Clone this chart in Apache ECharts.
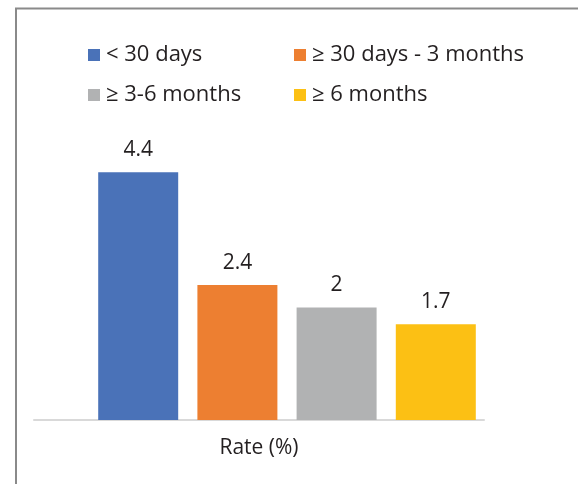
<!DOCTYPE html>
<html>
<head>
<meta charset="utf-8">
<script src="https://cdn.jsdelivr.net/npm/echarts@6/dist/echarts.min.js"></script>
<style>
  html, body { margin: 0; padding: 0; background: #fff; }
  #chart { width: 578px; height: 484px; }
</style>
</head>
<body>
<div id="chart"></div>
<script>
// Chart data
const categories = ['Rate (%)'];
const seriesNames = ['< 30 days', '≥ 30 days - 3 months', '≥ 3-6 months', '≥ 6 months'];
const seriesValues = [4.4, 2.4, 2, 1.7];
const seriesColors = ['#4a72b8', '#ed7f31', '#b1b2b3', '#fcc014'];

const FONT = '"Open Sans", "Noto Sans", sans-serif';
const TEXT_COLOR = '#231f20';

const chart = echarts.init(document.getElementById('chart'), null, { renderer: 'canvas' });

const series = seriesNames.map((name, i) => ({
  name: name,
  type: 'bar',
  xAxisIndex: 1,
  yAxisIndex: 1,
  data: [seriesValues[i]],
  barWidth: 80,
  barGap: '24%',
  itemStyle: { color: seriesColors[i] },
  label: {
    show: true,
    position: 'top',
    distance: 11,
    color: TEXT_COLOR,
    fontFamily: FONT,
    fontSize: 21,
    lineHeight: 22
  }
}));

const legendCommon = {
  orient: 'vertical',
  icon: 'rect',
  padding: 0,
  itemWidth: 12,
  itemHeight: 12,
  itemGap: 16,
  textStyle: { color: TEXT_COLOR, fontFamily: FONT, fontSize: 22, lineHeight: 24, padding: [0, 0, 0, 1] },
  selectedMode: false
};

const option = {
  backgroundColor: '#fff',
  animation: false,
  legend: [
    Object.assign({ left: 88, top: 43, data: [seriesNames[0], seriesNames[2]] }, legendCommon),
    Object.assign({ left: 294, top: 43, data: [seriesNames[1], seriesNames[3]] }, legendCommon)
  ],
  grid: [
    // axis line and category label
    { left: 34, right: 94, top: 138.5, bottom: 64, containLabel: false },
    // bars
    { left: 62, right: 66, top: 138.5, bottom: 64, containLabel: false }
  ],
  xAxis: [
    {
      type: 'category',
      gridIndex: 0,
      data: categories,
      axisLine: { show: true, lineStyle: { color: '#d9d9d9', width: 2 } },
      axisTick: { show: false },
      axisLabel: { color: TEXT_COLOR, fontFamily: FONT, fontSize: 21, margin: 18 }
    },
    {
      type: 'category',
      gridIndex: 1,
      data: categories,
      show: false
    }
  ],
  yAxis: [
    { type: 'value', gridIndex: 0, min: 0, max: 5, show: false, splitLine: { show: false } },
    { type: 'value', gridIndex: 1, min: 0, max: 5, show: false, splitLine: { show: false } }
  ],
  graphic: [
    {
      type: 'polyline',
      shape: { points: [[16, 484], [16, 8.5], [578, 8.5]] },
      style: { stroke: '#8a8a8a', lineWidth: 2, fill: null },
      silent: true
    }
  ],
  series: series
};

chart.setOption(option);
</script>
</body>
</html>
